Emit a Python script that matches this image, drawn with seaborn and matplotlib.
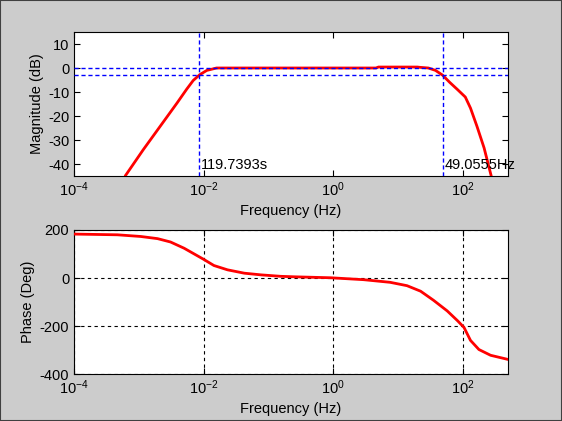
import numpy as np
import pandas as pd
import seaborn as sns
import matplotlib.pyplot as plt
from matplotlib.ticker import LogFormatterMathtext, NullLocator
from matplotlib.patches import Rectangle

# magnitude curve (log10 of Hz, dB)
mag_logf = [-3.21, -2.93, -2.67, -2.41, -2.26, -2.16, -2.06, -1.95, -1.80, 0.0, 0.66, 0.70,
            1.30, 1.33, 1.47, 1.58, 1.69, 1.80, 1.92, 2.04, 2.12, 2.22, 2.33, 2.44]
mag_db = [-45.0, -34.0, -24.3, -14.6, -8.8, -5.2, -2.8, -1.0, 0.0, 0.0, 0.0, 0.4,
          0.4, 0.3, 0.0, -1.0, -3.0, -6.0, -9.0, -12.1, -16.7, -24.3, -33.3, -45.0]

# phase curve (log10 of Hz, degrees)
ph_logf = [-4.0, -3.33, -2.97, -2.71, -2.51, -2.30, -2.15, -2.0, -1.84, -1.63, -1.37,
           -1.11, -0.81, -0.60, -0.04, 0.47, 0.88, 1.14, 1.35, 1.55, 1.76, 1.92,
           2.02, 2.12, 2.25, 2.43, 2.71]
ph_deg = [183, 180, 173, 164, 150, 124, 101, 78, 52, 34, 20,
          13, 7, 5, 1, -7, -18, -32, -55, -93, -137, -178,
          -206, -260, -298, -322, -340]

low_cut_s = 119.7393
high_cut_hz = 49.0555
ref_levels_db = [0, -3]

mag = pd.DataFrame({"f": np.power(10.0, mag_logf), "db": mag_db})
ph = pd.DataFrame({"f": np.power(10.0, ph_logf), "deg": ph_deg})

sns.set_theme(style="ticks")
plt.rcParams["font.family"] = ["Liberation Sans", "DejaVu Sans"]
plt.rcParams["mathtext.fontset"] = "custom"
plt.rcParams["mathtext.rm"] = "Liberation Sans"
plt.rcParams["mathtext.it"] = "Liberation Sans"
plt.rcParams["axes.unicode_minus"] = False
plt.rcParams["text.color"] = "black"
plt.rcParams["axes.labelcolor"] = "black"
plt.rcParams["xtick.direction"] = "in"
plt.rcParams["ytick.direction"] = "in"
plt.rcParams["xtick.top"] = True
plt.rcParams["ytick.right"] = True

fig = plt.figure(figsize=(5.62, 4.21), dpi=100, facecolor="#cccccc")
W, H = 562, 421
ax1 = fig.add_axes([74 / W, 1 - 176 / H, 434 / W, 144 / H])
ax2 = fig.add_axes([74 / W, 1 - 374 / H, 434 / W, 144 / H])

sns.lineplot(data=mag, x="f", y="db", ax=ax1, color="red", lw=2, zorder=3)
for lvl in ref_levels_db:
    ax1.axhline(lvl, color="blue", ls="--", lw=1, dashes=(3, 2), zorder=4)
ax1.axvline(1 / low_cut_s, color="blue", ls="--", lw=1, dashes=(3, 2), zorder=4)
ax1.axvline(high_cut_hz, color="blue", ls="--", lw=1, dashes=(3, 2), zorder=4)
ax1.text(1 / low_cut_s * 1.08, -40.5, f"{low_cut_s:.4f}s", fontsize=10.5, va="center")
ax1.text(high_cut_hz * 1.08, -40.5, f"{high_cut_hz:.4f}Hz", fontsize=10.5, va="center")
ax1.set_xscale("log")
ax1.set_xlim(1e-4, 500)
ax1.set_ylim(-45, 15)
ax1.set_yticks([10, 0, -10, -20, -30, -40])
ax1.set_ylabel("Magnitude (dB)", fontsize=10.5, labelpad=3)

sns.lineplot(data=ph, x="f", y="deg", ax=ax2, color="red", lw=2, zorder=3)
ax2.set_xscale("log")
ax2.set_xlim(1e-4, 500)
ax2.set_ylim(-400, 200)
ax2.set_yticks([200, 0, -200, -400])
ax2.grid(True, color="black", ls="--", lw=0.8, dashes=(3, 3))
ax2.set_ylabel("Phase (Deg)", fontsize=10.5, labelpad=3)

for ax in (ax1, ax2):
    ax.set_facecolor("white")
    ax.set_xlabel("Frequency (Hz)", fontsize=10.5, labelpad=3)
    ax.set_xticks([1e-4, 1e-2, 1, 1e2])
    ax.xaxis.set_minor_locator(NullLocator())
    ax.xaxis.set_major_formatter(LogFormatterMathtext())
    ax.tick_params(length=4, width=0.8, colors="black", labelsize=10.5)
    for s in ax.spines.values():
        s.set_color("black")
        s.set_linewidth(0.8)

fig.patches.append(Rectangle((0, 0), 1, 1, transform=fig.transFigure, fill=False,
                             edgecolor="#404040", lw=1.5))
fig.savefig("out.png", dpi=100, facecolor=fig.get_facecolor())
